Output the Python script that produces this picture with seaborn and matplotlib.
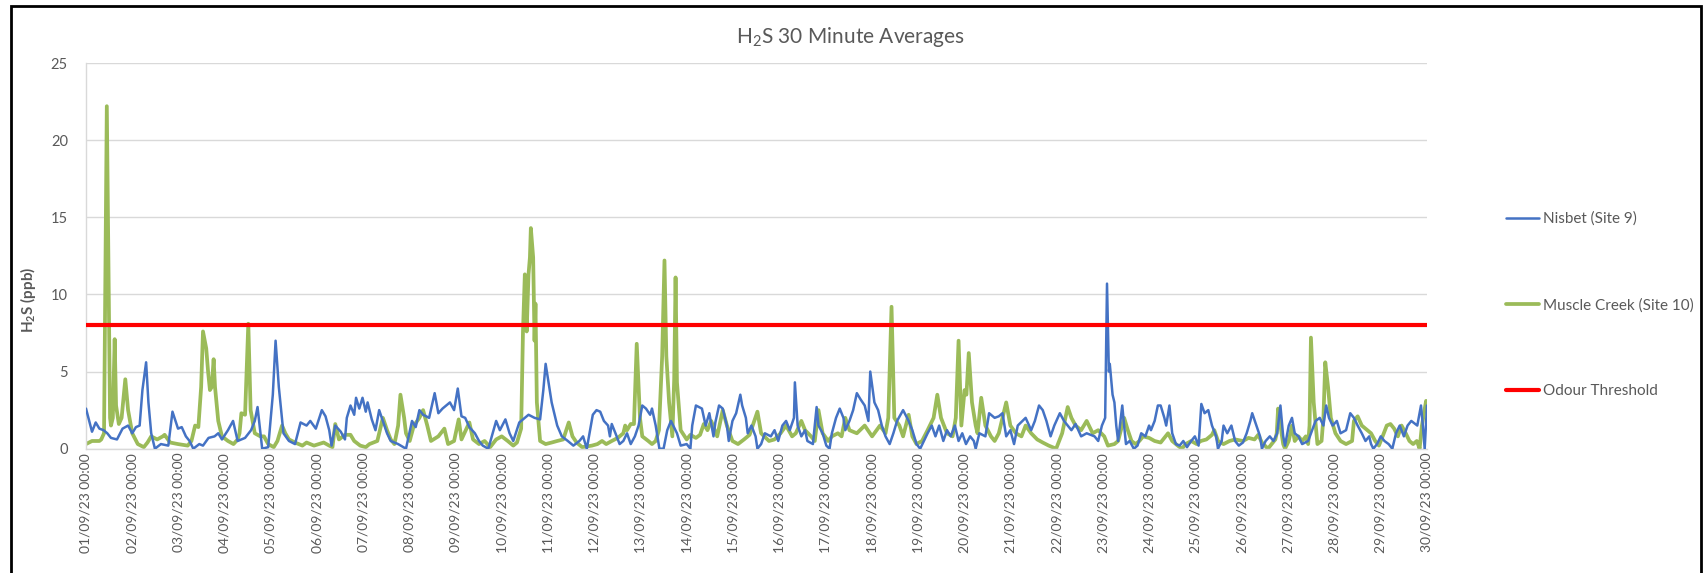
import pandas as pd
import numpy as np
import matplotlib
matplotlib.use('Agg')
import matplotlib.pyplot as plt
import matplotlib.dates as mdates
from matplotlib.lines import Line2D
from matplotlib.patches import Rectangle
import seaborn as sns

# time axis: days since 01/09/23 00:00, values in ppb
nisbet_day = [0.00, 0.13, 0.21, 0.29, 0.38, 0.46, 0.54, 0.67, 0.79, 0.91, 1.00, 1.08, 1.16, 1.22, 1.30, 1.35,
              1.41, 1.49, 1.62, 1.78, 1.87, 1.99, 2.07, 2.16, 2.24, 2.32, 2.45, 2.53, 2.65, 2.78, 2.86, 2.94,
              3.07, 3.18, 3.28, 3.44, 3.57, 3.65, 3.71, 3.81, 3.94, 4.04, 4.10, 4.17, 4.27, 4.39, 4.52, 4.64,
              4.77, 4.85, 4.97, 5.10, 5.18, 5.26, 5.31, 5.39, 5.51, 5.60, 5.64, 5.72, 5.80, 5.84, 5.91, 5.98,
              6.05, 6.09, 6.18, 6.26, 6.34, 6.42, 6.51, 6.59, 6.75, 6.92, 7.05, 7.13, 7.21, 7.29, 7.42, 7.54,
              7.62, 7.71, 7.79, 7.87, 7.96, 8.04, 8.12, 8.20, 8.29, 8.41, 8.50, 8.58, 8.70, 8.87, 8.95, 9.07,
              9.16, 9.24, 9.37, 9.45, 9.57, 9.70, 9.82, 9.89, 9.94, 10.03, 10.07, 10.19, 10.29, 10.42, 10.54,
              10.67, 10.75, 10.83, 10.96, 11.04, 11.12, 11.20, 11.29, 11.33, 11.37, 11.45, 11.54, 11.62, 11.70,
              11.78, 11.87, 11.95, 12.03, 12.11, 12.20, 12.24, 12.32, 12.40, 12.49, 12.57, 12.65, 12.78, 12.86,
              12.99, 13.07, 13.11, 13.19, 13.32, 13.40, 13.48, 13.57, 13.61, 13.69, 13.77, 13.86, 13.90, 13.98,
              14.06, 14.15, 14.19, 14.27, 14.31, 14.39, 14.48, 14.52, 14.60, 14.68, 14.81, 14.89, 14.97, 15.06,
              15.14, 15.22, 15.31, 15.33, 15.39, 15.47, 15.55, 15.60, 15.72, 15.80, 15.84, 15.93, 16.01, 16.08,
              16.13, 16.22, 16.30, 16.38, 16.42, 16.51, 16.59, 16.67, 16.75, 16.84, 16.92, 16.96, 17.05, 17.13,
              17.21, 17.29, 17.38, 17.46, 17.54, 17.67, 17.79, 17.87, 17.96, 18.04, 18.12, 18.20, 18.29, 18.37,
              18.45, 18.54, 18.62, 18.70, 18.79, 18.87, 18.95, 19.03, 19.12, 19.20, 19.24, 19.32, 19.45, 19.53,
              19.65, 19.74, 19.82, 19.90, 19.99, 20.07, 20.15, 20.32, 20.44, 20.52, 20.61, 20.69, 20.77, 20.86,
              20.94, 21.06, 21.15, 21.23, 21.31, 21.40, 21.52, 21.64, 21.81, 21.89, 21.97, 22.04, 22.08, 22.12,
              22.14, 22.20, 22.24, 22.28, 22.32, 22.41, 22.45, 22.49, 22.57, 22.66, 22.74, 22.82, 22.91, 22.99,
              23.03, 23.11, 23.18, 23.24, 23.32, 23.36, 23.43, 23.49, 23.57, 23.65, 23.73, 23.81, 23.90, 23.98,
              24.06, 24.12, 24.19, 24.27, 24.35, 24.44, 24.48, 24.56, 24.60, 24.68, 24.77, 24.85, 24.93, 25.02,
              25.10, 25.18, 25.22, 25.31, 25.39, 25.43, 25.51, 25.60, 25.68, 25.76, 25.83, 25.89, 25.93, 26.01,
              26.08, 26.14, 26.22, 26.30, 26.43, 26.59, 26.68, 26.76, 26.82, 26.88, 26.96, 27.05, 27.13, 27.25,
              27.34, 27.42, 27.50, 27.59, 27.67, 27.75, 27.79, 27.84, 27.92, 28.00, 28.08, 28.17, 28.25, 28.33,
              28.41, 28.50, 28.58, 28.66, 28.79, 28.87, 28.91, 28.95, 29.00]
nisbet_ppb = [2.6, 1.1, 1.7, 1.3, 1.2, 1.0, 0.7, 0.6, 1.3, 1.5, 1.0, 1.4, 1.5, 3.8, 5.6, 3.0,
              1.0, 0.0, 0.3, 0.2, 2.4, 1.3, 1.4, 0.8, 0.5, 0.0, 0.3, 0.2, 0.7, 0.8, 1.0, 0.6,
              1.2, 1.8, 0.5, 0.7, 1.2, 1.8, 2.7, 0.0, 0.1, 3.5, 7.0, 4.0, 1.0, 0.5, 0.3, 1.7,
              1.5, 1.8, 1.3, 2.5, 2.1, 1.2, 0.2, 1.5, 1.1, 0.6, 2.0, 2.8, 2.2, 3.3, 2.6, 3.3,
              2.4, 3.0, 1.9, 1.2, 2.5, 1.8, 1.0, 0.5, 0.3, 0.0, 1.8, 1.4, 2.5, 2.2, 2.0, 3.6,
              2.3, 2.6, 2.8, 3.0, 2.5, 3.9, 2.1, 2.0, 1.4, 1.0, 0.5, 0.2, 0.0, 1.8, 1.2, 1.9,
              1.0, 0.5, 1.7, 1.9, 2.2, 2.0, 1.9, 3.8, 5.5, 3.8, 3.0, 1.5, 0.8, 0.5, 0.2,
              0.5, 0.8, 0.0, 2.2, 2.5, 2.4, 1.8, 1.5, 0.8, 1.6, 1.0, 0.3, 0.5, 1.0,
              0.3, 0.8, 1.5, 2.8, 2.6, 2.2, 2.6, 1.5, 0.0, 0.0, 1.2, 1.8, 1.0, 0.2,
              0.3, 0.0, 1.5, 2.8, 2.6, 1.5, 2.3, 0.8, 1.7, 2.8, 2.6, 1.5, 0.5, 1.8,
              2.3, 3.5, 2.8, 2.0, 1.0, 1.5, 0.8, 0.0, 0.3, 1.0, 0.8, 1.2, 0.5, 1.5,
              1.8, 1.2, 2.0, 4.3, 1.5, 0.8, 1.2, 0.5, 0.3, 2.7, 1.5, 1.0, 0.2, 0.0,
              1.0, 2.0, 2.6, 2.0, 1.2, 1.8, 2.5, 3.6, 3.2, 2.8, 1.8, 5.0, 3.0, 2.5,
              1.5, 0.8, 0.3, 1.0, 1.8, 2.5, 1.8, 1.2, 0.3, 0.0, 0.5, 1.0, 1.5, 0.8,
              1.5, 0.5, 1.2, 0.8, 1.5, 0.5, 1.0, 0.3, 0.8, 0.5, 0.0, 1.0, 0.8, 2.3,
              2.0, 2.1, 2.3, 0.8, 1.2, 0.3, 1.5, 2.0, 1.2, 1.8, 2.8, 2.5, 1.8, 0.8,
              1.5, 2.3, 1.8, 1.5, 1.2, 1.6, 0.8, 1.0, 0.8, 0.5, 1.5, 2.0, 10.7, 5.0,
              5.5, 3.5, 3.0, 1.5, 0.5, 2.8, 1.5, 0.3, 0.5, 0.0, 0.2, 1.0, 0.8, 1.5,
              1.2, 1.8, 2.8, 2.8, 2.0, 1.5, 2.8, 1.0, 0.3, 0.2, 0.5, 0.1, 0.5, 0.8,
              0.2, 2.9, 2.3, 2.5, 1.5, 0.8, 0.0, 0.5, 1.5, 1.0, 1.5, 0.5, 0.2, 0.4,
              1.0, 1.8, 2.3, 1.5, 0.8, 0.0, 0.5, 0.8, 0.5, 1.0, 2.8, 0.8, 0.2, 1.5,
              2.0, 1.0, 0.8, 0.3, 0.5, 1.8, 2.0, 1.5, 2.8, 2.0, 1.5, 1.8, 1.0, 1.2,
              2.3, 2.0, 1.5, 1.0, 0.5, 0.8, 0.3, 0.0, 0.3, 0.8, 0.5, 0.3, 0.0, 1.0,
              1.5, 0.8, 1.5, 1.8, 1.5, 2.8, 1.5, 0.0, 2.8]

muscle_day = [0.00, 0.13, 0.29, 0.33, 0.39, 0.45, 0.52, 0.54, 0.58, 0.62, 0.65, 0.71, 0.77, 0.85, 0.91, 1.00,
              1.12, 1.25, 1.33, 1.41, 1.54, 1.66, 1.70, 1.82, 1.99, 2.20, 2.28, 2.36, 2.43, 2.49, 2.53, 2.60,
              2.64, 2.68, 2.72, 2.76, 2.79, 2.86, 2.94, 3.07, 3.19, 3.28, 3.32, 3.36, 3.44, 3.51, 3.56, 3.65,
              3.77, 3.85, 3.94, 4.06, 4.14, 4.24, 4.31, 4.39, 4.52, 4.68, 4.77, 4.93, 5.14, 5.26, 5.33, 5.39,
              5.47, 5.60, 5.72, 5.80, 5.93, 6.05, 6.13, 6.30, 6.42, 6.51, 6.59, 6.67, 6.75, 6.80, 6.88, 6.92,
              7.00, 7.09, 7.21, 7.29, 7.38, 7.46, 7.62, 7.75, 7.83, 7.96, 8.06, 8.12, 8.29, 8.37, 8.50, 8.62,
              8.74, 8.87, 8.99, 9.12, 9.24, 9.32, 9.41, 9.45, 9.49, 9.53, 9.57, 9.60, 9.62, 9.67, 9.70, 9.72,
              9.75, 9.82, 9.94, 10.07, 10.19, 10.32, 10.44, 10.52, 10.61, 10.73, 10.94, 11.06, 11.16, 11.25,
              11.37, 11.50, 11.62, 11.66, 11.70, 11.78, 11.85, 11.91, 11.98, 12.03, 12.16, 12.24, 12.32, 12.39,
              12.46, 12.51, 12.55, 12.61, 12.68, 12.72, 12.75, 12.78, 12.86, 12.99, 13.07, 13.19, 13.28, 13.36,
              13.44, 13.52, 13.65, 13.77, 13.86, 13.98, 14.10, 14.23, 14.35, 14.52, 14.60, 14.77, 14.89, 15.02,
              15.14, 15.27, 15.35, 15.47, 15.55, 15.68, 15.76, 15.84, 15.93, 16.05, 16.13, 16.26, 16.34, 16.42,
              16.51, 16.67, 16.84, 17.00, 17.17, 17.29, 17.35, 17.42, 17.48, 17.59, 17.67, 17.79, 17.87, 17.96,
              18.08, 18.20, 18.33, 18.41, 18.49, 18.62, 18.74, 18.81, 18.87, 18.93, 19.00, 19.04, 19.09, 19.16,
              19.24, 19.28, 19.36, 19.45, 19.57, 19.65, 19.74, 19.82, 19.90, 19.99, 20.11, 20.23, 20.32, 20.44,
              20.57, 20.69, 20.82, 20.98, 21.11, 21.23, 21.31, 21.40, 21.52, 21.64, 21.77, 21.89, 22.02, 22.10,
              22.24, 22.32, 22.45, 22.53, 22.61, 22.70, 22.78, 22.86, 22.99, 23.11, 23.24, 23.32, 23.40, 23.49,
              23.61, 23.70, 23.78, 23.90, 24.02, 24.11, 24.23, 24.35, 24.40, 24.48, 24.60, 24.73, 24.85, 25.02,
              25.14, 25.27, 25.35, 25.43, 25.56, 25.64, 25.72, 25.75, 25.78, 25.83, 25.89, 25.93, 26.01, 26.08,
              26.14, 26.22, 26.30, 26.38, 26.43, 26.46, 26.49, 26.55, 26.63, 26.72, 26.76, 26.80, 26.86, 26.92,
              27.02, 27.13, 27.25, 27.38, 27.42, 27.50, 27.59, 27.71, 27.79, 27.88, 27.96, 28.04, 28.13, 28.21,
              28.29, 28.37, 28.45, 28.54, 28.62, 28.70, 28.78, 28.84, 28.89, 28.98, 29.00]
muscle_ppb = [0.3, 0.5, 0.5, 0.6, 1.0, 22.2, 2.0, 1.5, 2.0, 7.1, 2.8, 1.6, 2.0, 4.5, 2.5, 1.0,
              0.3, 0.1, 0.4, 0.8, 0.6, 0.8, 0.9, 0.4, 0.3, 0.2, 0.5, 1.5, 1.4, 4.0, 7.6, 6.5,
              5.0, 3.8, 4.0, 5.8, 4.0, 1.8, 0.8, 0.5, 0.3, 0.6, 1.0, 2.3, 2.2, 8.1, 2.5, 1.0,
              0.8, 0.8, 0.3, 0.1, 0.5, 1.5, 1.0, 0.6, 0.4, 0.2, 0.4, 0.2, 0.4, 0.2, 0.1, 1.6,
              0.6, 0.9, 0.9, 0.5, 0.2, 0.1, 0.3, 0.5, 2.0, 1.2, 0.6, 0.3, 1.5, 3.5, 2.0, 1.0,
              0.5, 1.5, 2.0, 2.5, 1.5, 0.5, 0.8, 1.3, 0.3, 0.5, 1.9, 0.6, 1.7, 0.6, 0.3, 0.5,
              0.1, 0.6, 0.8, 0.5, 0.2, 0.4, 1.3, 7.6, 11.3, 7.6, 11.3, 12.4, 14.3, 12.4, 7.0, 9.4,
              3.0, 0.5, 0.3, 0.4, 0.5, 0.6, 1.7, 0.8, 0.4, 0.1, 0.2, 0.3, 0.5, 0.3,
              0.5, 0.7, 1.0, 1.5, 1.2, 1.6, 1.6, 6.8, 2.0, 0.8, 0.5, 0.3, 0.5, 1.2,
              6.0, 12.2, 6.0, 3.0, 0.8, 4.5, 11.1, 4.3, 1.2, 0.6, 0.9, 0.7, 0.9, 1.6,
              1.2, 1.8, 0.8, 2.5, 1.5, 0.5, 0.3, 0.6, 0.9, 2.4, 1.0, 0.5, 0.6, 1.0,
              1.5, 0.8, 1.0, 1.8, 1.2, 0.8, 0.5, 2.5, 1.0, 0.5, 0.8, 1.0, 0.8, 2.0,
              1.2, 1.0, 1.5, 0.8, 1.5, 1.0, 2.0, 9.2, 2.0, 1.5, 0.8, 2.2, 0.8, 0.3,
              0.5, 1.2, 2.0, 3.5, 2.0, 1.0, 0.8, 2.0, 7.0, 1.5, 3.8, 3.5, 6.2, 3.0,
              1.5, 1.0, 3.3, 1.5, 0.8, 0.5, 1.0, 2.0, 3.0, 1.5, 1.0, 0.8, 1.5, 1.0,
              0.6, 0.4, 0.2, 0.0, 1.0, 2.7, 2.0, 1.5, 1.2, 1.8, 1.0, 1.2, 0.8, 0.2,
              0.3, 0.5, 2.0, 1.2, 0.5, 0.3, 0.5, 0.8, 0.7, 0.5, 0.4, 0.7, 1.0, 0.5,
              0.2, 0.0, 0.3, 0.5, 0.3, 0.5, 0.6, 0.9, 1.2, 0.5, 0.3, 0.5, 0.6, 0.5,
              0.7, 0.6, 0.9, 0.4, 0.0, 0.3, 0.6, 1.0, 2.6, 1.5, 0.3, 0.0, 0.5, 1.5,
              0.5, 0.8, 0.5, 0.8, 0.3, 1.5, 7.2, 3.0, 0.3, 0.5, 2.0, 5.6, 4.0, 2.0,
              1.0, 0.5, 0.3, 0.5, 1.8, 2.1, 1.5, 1.2, 1.0, 0.5, 0.2, 0.8, 1.5, 1.6,
              1.3, 0.8, 1.5, 1.0, 0.5, 0.3, 0.5, 0.0, 1.5, 3.1, 3.0]

odour_threshold = 8
series_names = ['Nisbet (Site 9)', 'Muscle Creek (Site 10)', 'Odour Threshold']
y_ticks = [0, 5, 10, 15, 20, 25]

start = pd.Timestamp('2023-09-01 00:00')
nisbet = pd.DataFrame({'time': start + pd.to_timedelta(nisbet_day, unit='D'), 'ppb': nisbet_ppb})
muscle = pd.DataFrame({'time': start + pd.to_timedelta(muscle_day, unit='D'), 'ppb': muscle_ppb})

sns.set_theme(style='white')
plt.rcParams['font.family'] = ['Lato', 'DejaVu Sans']
plt.rcParams['mathtext.default'] = 'regular'

grey = '#595959'
blue = '#4472C4'
green = '#9BBB59'

fig = plt.figure(figsize=(17.04, 5.73), dpi=100)
ax = fig.add_axes([86 / 1704, 1 - 448.7 / 573, (1427 - 86) / 1704, (448.7 - 63) / 573])

sns.lineplot(data=nisbet, x='time', y='ppb', ax=ax, color=blue, linewidth=1.8, zorder=3)
sns.lineplot(data=muscle, x='time', y='ppb', ax=ax, color=green, linewidth=2.7, zorder=2)
ax.axhline(odour_threshold, color='#FF0000', linewidth=3, zorder=4)

ax.set_xlim(start, start + pd.Timedelta(days=29))
ax.set_ylim(0, 25)
ax.set_yticks(y_ticks)
ax.yaxis.grid(True, color='#D9D9D9', linewidth=1)
ax.xaxis.grid(False)
for s in ['top', 'right']:
    ax.spines[s].set_visible(False)
for s in ['bottom', 'left']:
    ax.spines[s].set_color('#D9D9D9')
    ax.spines[s].set_linewidth(1)

ax.xaxis.set_major_locator(mdates.DayLocator())
ax.xaxis.set_major_formatter(mdates.DateFormatter('%d/%m/%y %H:%M'))
ax.tick_params(axis='x', labelrotation=90, labelsize=10, labelcolor=grey, length=0, pad=3)
ax.tick_params(axis='y', labelsize=10.5, labelcolor=grey, length=0, pad=13)

ax.set_xlabel('')
ax.set_ylabel('H$_2$S (ppb)', fontsize=11, fontweight='bold', color=grey, va='center')
ax.yaxis.set_label_coords((28 - 86) / 1341, (448.7 - 300) / 385.7)

fig.text(850 / 1704, 1 - 37 / 573, 'H$_2$S 30 Minute Averages', ha='center', va='center',
         fontsize=15, color=grey)

handles = [Line2D([0], [0], color=blue, linewidth=1.8),
           Line2D([0], [0], color=green, linewidth=2.7),
           Line2D([0], [0], color='#FF0000', linewidth=3)]
fig.legend(handles, series_names, loc='center left', bbox_to_anchor=(1492 / 1704, 1 - 305 / 573),
           frameon=False, fontsize=11, labelcolor=grey, handlelength=2.2, handletextpad=0.25,
           labelspacing=4.7)

fig.patches.append(Rectangle((11 / 1704, -0.05), (1701 - 11) / 1704, 1.05 - 6 / 573,
                             transform=fig.transFigure, fill=False, edgecolor='black', linewidth=2))

fig.savefig('out.png', dpi=100)
